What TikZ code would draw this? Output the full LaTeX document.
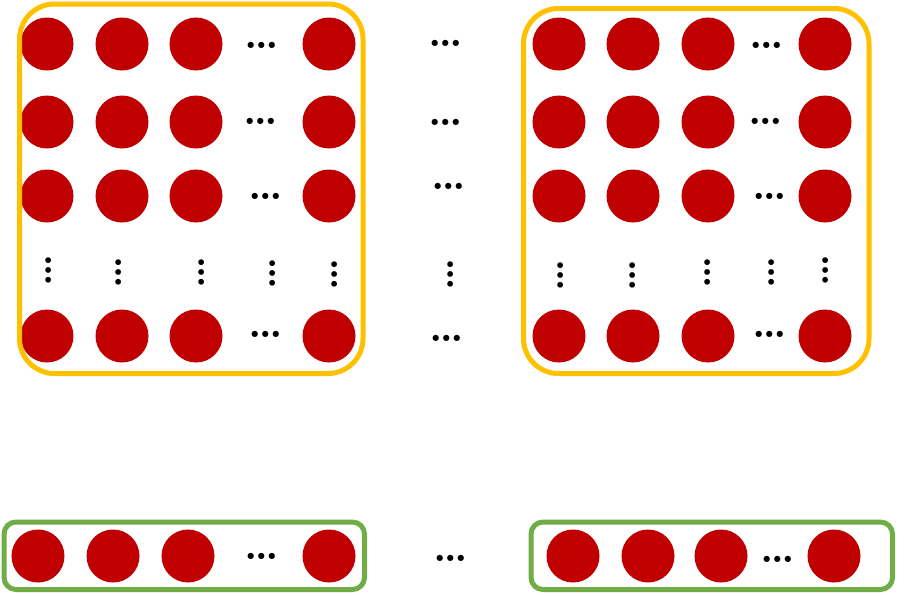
\documentclass[tikz,border=0pt]{standalone}
\usetikzlibrary{positioning}

\definecolor{neuronred}{HTML}{C00000}
\definecolor{mapyellow}{HTML}{FFC000}
\definecolor{vecgreen}{HTML}{70AD47}

\begin{document}
\begin{tikzpicture}[
  x=1pt, y=-1pt,
  neuron/.style={circle, fill=neuronred, minimum size=53pt, inner sep=0pt},
  hdots/.style={font=\fontsize{43}{43}\selectfont\bfseries, inner sep=0pt, anchor=base},
  vdots/.style={font=\fontsize{40}{40}\selectfont\bfseries, inner sep=0pt, anchor=base, rotate=90},
  mapbox/.style={rectangle, draw=mapyellow, line width=5pt, rounded corners=35pt, inner sep=0pt},
  vecbox/.style={rectangle, draw=vecgreen, line width=5pt, rounded corners=12pt, inner sep=0pt}
]
\useasboundingbox (0,0) rectangle (898,595);

% first feature map
\foreach \r/\y in {1/44, 2/122, 3/196, 5/336}
  \foreach \c/\x in {1/47, 2/122, 3/196, 5/329}
    \node[neuron] (a\r\c) at (\x,\y) {};
\node[hdots] (a1h) at (262,48) {\ldots};
\node[hdots] (a2h) at (261,124) {\ldots};
\node[hdots] (a3h) at (265.5,199) {\ldots};
\node[hdots] (a5h) at (265.5,337) {\ldots};
\foreach \c/\x/\y in {1/48/270, 2/118/272.5, 3/201/272, 4/272/273, 5/334/274.5}
  \node[vdots] (a4\c) at (\x+3,\y) {\ldots};
\node[mapbox, minimum width=343.5pt, minimum height=369.5pt] (map1) at (191.25,188.75) {};

% between the maps
\node[hdots] (m1) at (446,46) {\ldots};
\node[hdots] (m2) at (446,125) {\ldots};
\node[hdots] (m3) at (448.7,189) {\ldots};
\node[vdots] (m4) at (453,274.5) {\ldots};
\node[hdots] (m5) at (446.5,341) {\ldots};

% last feature map
\foreach \r/\y in {1/44, 2/122, 3/196, 5/336}
  \foreach \c/\x in {1/559, 2/633, 3/708, 5/825}
    \node[neuron] (b\r\c) at (\x,\y) {};
\node[hdots] (b1h) at (766.5,48) {\ldots};
\node[hdots] (b2h) at (765.5,124) {\ldots};
\node[hdots] (b3h) at (769.5,199) {\ldots};
\node[hdots] (b5h) at (769.5,337) {\ldots};
\foreach \c/\x/\y in {1/560/275.5, 2/632/275.5, 3/707/272.5, 4/771/272.5, 5/825/270}
  \node[vdots] (b4\c) at (\x+3,\y) {\ldots};
\node[mapbox, minimum width=345.5pt, minimum height=365pt] (map2) at (696.25,191) {};

% flattened vectors
\foreach \c/\x in {1/38, 2/113, 3/188, 5/329}
  \node[neuron] (u\c) at (\x,556) {};
\node[hdots] (uh) at (261.5,559) {\ldots};
\node[vecbox, minimum width=360.5pt, minimum height=67.5pt] (vec1) at (184.25,555.75) {};

\node[hdots] (mv) at (450.7,561) {\ldots};

\foreach \c/\x in {1/573, 2/648, 3/721, 5/834}
  \node[neuron] (v\c) at (\x,556) {};
\node[hdots] (vh) at (777.5,562) {\ldots};
\node[vecbox, minimum width=361.5pt, minimum height=67.5pt] (vec2) at (711.75,555.75) {};

\end{tikzpicture}
\end{document}
